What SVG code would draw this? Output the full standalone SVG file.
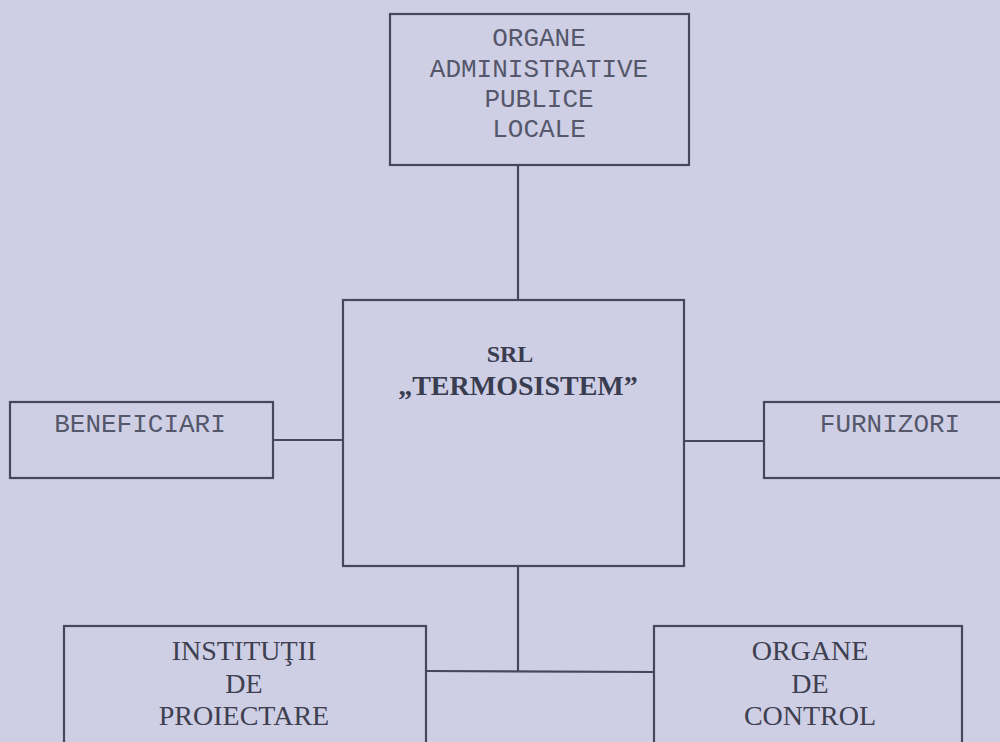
<svg xmlns="http://www.w3.org/2000/svg" width="1000" height="742" viewBox="0 0 1000 742">
  <style>
    .box { fill: none; stroke: #45475e; stroke-width: 2.2; }
    .conn { fill: none; stroke: #45475e; stroke-width: 2.2; }
    .mono { font-family: "Liberation Mono", "DejaVu Sans Mono", monospace; font-size: 26px; fill: #55576a; text-anchor: middle; }
    .serif { font-family: "Liberation Serif", "DejaVu Serif", serif; font-size: 28px; fill: #3e404f; text-anchor: middle; }
    .bold { font-family: "Liberation Serif", "DejaVu Serif", serif; font-weight: bold; fill: #3a3c50; text-anchor: middle; }
  </style>
  <rect x="0" y="0" width="1000" height="742" fill="#cecfe5"/>

  <g id="connectors">
    <line class="conn" x1="518" y1="165" x2="518" y2="300"/>
    <line class="conn" x1="273" y1="440" x2="343" y2="440"/>
    <line class="conn" x1="684" y1="441" x2="764" y2="441"/>
    <line class="conn" x1="518" y1="566" x2="518" y2="672"/>
    <line class="conn" x1="426" y1="671" x2="654" y2="672"/>
  </g>

  <g id="organe-administrative">
    <rect class="box" x="390" y="14" width="299" height="151"/>
    <text class="mono" x="539" y="46">ORGANE</text>
    <text class="mono" x="539" y="77">ADMINISTRATIVE</text>
    <text class="mono" x="539" y="107">PUBLICE</text>
    <text class="mono" x="539" y="137">LOCALE</text>
  </g>

  <g id="srl-termosistem">
    <rect class="box" x="343" y="300" width="341" height="266"/>
    <text class="bold" x="510" y="362" font-size="24">SRL</text>
    <text class="bold" x="518" y="395" font-size="28">„TERMOSISTEM”</text>
  </g>

  <g id="beneficiari">
    <rect class="box" x="10" y="402" width="263" height="76"/>
    <text class="mono" x="140" y="432">BENEFICIARI</text>
  </g>

  <g id="furnizori">
    <rect class="box" x="764" y="402" width="260" height="76"/>
    <text class="mono" x="890" y="432">FURNIZORI</text>
  </g>

  <g id="institutii-proiectare">
    <rect class="box" x="64" y="626" width="362" height="140"/>
    <text class="serif" x="244" y="660">INSTITUŢII</text>
    <text class="serif" x="244" y="693">DE</text>
    <text class="serif" x="244" y="725">PROIECTARE</text>
  </g>

  <g id="organe-control">
    <rect class="box" x="654" y="626" width="308" height="140"/>
    <text class="serif" x="810" y="660">ORGANE</text>
    <text class="serif" x="810" y="693">DE</text>
    <text class="serif" x="810" y="725">CONTROL</text>
  </g>
</svg>
